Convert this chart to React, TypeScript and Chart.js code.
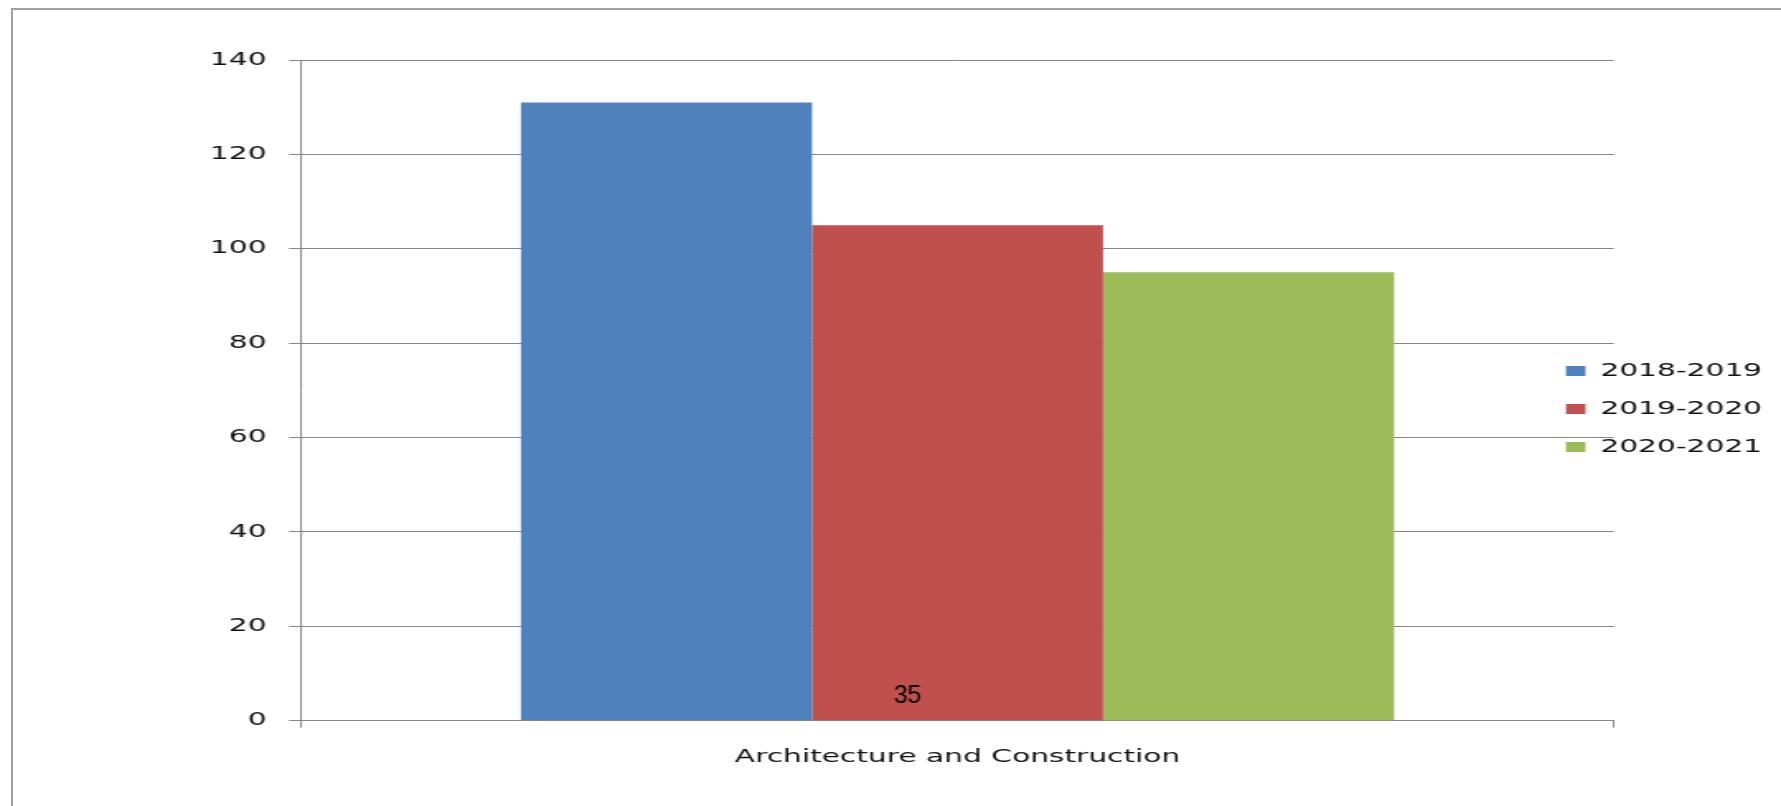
import React, { useEffect, useRef } from 'react';
import { Chart, registerables } from 'chart.js';

Chart.register(...registerables);

// ---- data ----
const categories = ['Architecture and Construction'];
const seriesLabels = ['2018-2019', '2019-2020', '2020-2021'];
const values2018 = [131];
const values2019 = [105];
const values2020 = [95];
const seriesColors = ['#4F81BD', '#C0504D', '#9BBB59'];
const yTickValues = [0, 20, 40, 60, 80, 100, 120, 140];
const pageNote = '35';

// ---- layout (page is a horizontally stretched picture) ----
const PAGE_W = 1781;
const PAGE_H = 806;
const CANVAS_W = 1080;
const SX = PAGE_W / CANVAS_W;

const PLOT_LEFT = 301 / SX;
const PLOT_RIGHT = 1614 / SX;
const PLOT_TOP = 60;
const PLOT_BOTTOM = 720.7;

const FONT = { family: '"DejaVu Sans", Verdana, sans-serif', size: 18 };
const TEXT_COLOR = '#111111';
const LINE_COLOR = '#888888';
const LEGEND_PAD = 20;

const legendPlacer = {
  id: 'legendPlacer',
  afterLayout(chart: any) {
    const lg = chart.legend;
    if (!lg) return;
    const w = lg.width;
    const h = lg.height;
    lg.left = 1566 / SX - LEGEND_PAD;
    lg.top = 362 - LEGEND_PAD;
    lg.right = lg.left + w;
    lg.bottom = lg.top + h;
  },
};

const notePlugin = {
  id: 'pageNote',
  afterDraw(chart: any) {
    const ctx = chart.ctx;
    ctx.save();
    ctx.scale(1 / SX, 1);
    ctx.font = '25px "Liberation Sans", Arial, sans-serif';
    ctx.fillStyle = '#000000';
    ctx.textAlign = 'center';
    ctx.textBaseline = 'middle';
    ctx.fillText(pageNote, 907.5, 696);
    ctx.restore();
  },
};

export default function App() {
  const canvasRef = useRef<HTMLCanvasElement | null>(null);

  useEffect(() => {
    const canvas = canvasRef.current;
    if (!canvas) return;
    const seriesValues = [values2018, values2019, values2020];
    const chart = new Chart(canvas, {
      type: 'bar',
      data: {
        labels: categories,
        datasets: seriesLabels.map((label, i) => ({
          label,
          data: seriesValues[i],
          backgroundColor: seriesColors[i],
          borderWidth: 0,
          categoryPercentage: 0.665,
          barPercentage: 1,
        })),
      },
      plugins: [legendPlacer, notePlugin],
      options: {
        responsive: false,
        animation: false,
        devicePixelRatio: 1,
        layout: {
          padding: { left: 0, top: PLOT_TOP, right: CANVAS_W - PLOT_RIGHT, bottom: 0 },
        },
        plugins: {
          legend: {
            position: 'chartArea' as any,
            align: 'start',
            labels: {
              boxWidth: 11.8,
              boxHeight: 10,
              padding: LEGEND_PAD,
              color: TEXT_COLOR,
              font: FONT,
            },
          },
          tooltip: { enabled: false },
        },
        scales: {
          x: {
            grid: {
              display: true,
              drawOnChartArea: false,
              drawTicks: true,
              tickLength: 7,
              color: LINE_COLOR,
              offset: true,
            },
            border: { display: true, color: LINE_COLOR },
            ticks: { color: TEXT_COLOR, font: FONT, padding: 19 },
            afterFit: (s: any) => {
              s.height = PAGE_H - PLOT_BOTTOM;
            },
          },
          y: {
            min: 0,
            max: 140,
            afterBuildTicks: (s: any) => {
              s.ticks = yTickValues.map((v) => ({ value: v }));
            },
            ticks: { color: TEXT_COLOR, font: FONT, padding: 13.5 },
            grid: { color: LINE_COLOR, tickLength: 7.3 },
            border: { display: true, color: LINE_COLOR },
            afterFit: (s: any) => {
              s.width = PLOT_LEFT;
            },
          },
        },
      },
    });
    return () => chart.destroy();
  }, []);

  return (
    <div
      style={{
        position: 'fixed',
        left: 0,
        top: 0,
        width: PAGE_W,
        height: PAGE_H,
        background: '#ffffff',
        overflow: 'hidden',
      }}
    >
      <div
        style={{
          position: 'absolute',
          left: 11,
          top: 8,
          right: 0,
          bottom: 0,
          borderLeft: '2px solid #a0a0a0',
          borderTop: '2px solid #a0a0a0',
        }}
      />
      <canvas
        ref={canvasRef}
        width={CANVAS_W}
        height={PAGE_H}
        style={{
          position: 'absolute',
          left: 0,
          top: 0,
          width: PAGE_W + 'px',
          height: PAGE_H + 'px',
          display: 'block',
        }}
      />
    </div>
  );
}
